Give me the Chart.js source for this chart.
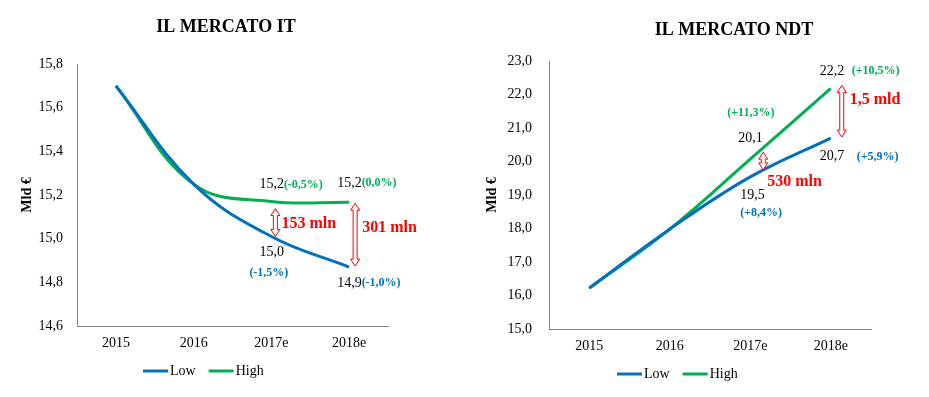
<!DOCTYPE html>
<html>
<head>
<meta charset="utf-8">
<script src="https://cdn.jsdelivr.net/npm/chart.js@4"></script>
<style>
  body { margin: 0; background: #fff; width: 929px; height: 397px; position: relative; overflow: hidden; }
  .box { position: absolute; top: 0; height: 397px; }
</style>
</head>
<body>
<div class="box" style="left:0;width:465px"><canvas id="it" width="465" height="397"></canvas></div>
<div class="box" style="left:470px;width:459px"><canvas id="ndt" width="459" height="397"></canvas></div>
<script>
// data
const years = ['2015', '2016', '2017e', '2018e'];
const seriesNames = ['Low', 'High'];

const itLow = [15.70, 15.25, 15.01, 14.87];
const itHigh = [15.70, 15.25, 15.17, 15.167];
const itLowPct = ['', '', '(-1,5%)', '(-1,0%)'];
const itHighPct = ['', '', '(-0,5%)', '(0,0%)'];
const itGaps = ['153 mln', '301 mln'];
const itTicks = { min: 14.6, max: 15.8, step: 0.2 };

const ndtLow = [16.22, 17.98, 19.54, 20.70];
const ndtHigh = [16.22, 17.98, 20.07, 22.18];
const ndtLowPct = ['', '', '(+8,4%)', '(+5,9%)'];
const ndtHighPct = ['', '', '(+11,3%)', '(+10,5%)'];
const ndtGaps = ['530 mln', '1,5 mld'];
const ndtTicks = { min: 15, max: 23, step: 1 };

const BLUE = '#0070C0';
const GREEN = '#00B050';
const RED = '#FF0000';
const SERIF = '"Liberation Serif", "Times New Roman", serif';

Chart.defaults.font.family = SERIF;
Chart.defaults.color = '#000';

const fmt = v => Number(v).toFixed(1).replace('.', ',');

function drawArrow(ctx, x, y1, y2) {
    const hw = 4.5, sw = 2, hl = 7;
    ctx.beginPath();
    ctx.moveTo(x, y1);
    ctx.lineTo(x + hw, y1 + hl);
    ctx.lineTo(x + sw, y1 + hl);
    ctx.lineTo(x + sw, y2 - hl);
    ctx.lineTo(x + hw, y2 - hl);
    ctx.lineTo(x, y2);
    ctx.lineTo(x - hw, y2 - hl);
    ctx.lineTo(x - sw, y2 - hl);
    ctx.lineTo(x - sw, y1 + hl);
    ctx.lineTo(x - hw, y1 + hl);
    ctx.closePath();
    ctx.fillStyle = '#fff';
    ctx.fill();
    ctx.strokeStyle = RED;
    ctx.lineWidth = 1;
    ctx.stroke();
}

// title, value labels, gap arrows and legend
const extras = {
    id: 'extras',
    afterDatasetsDraw(chart, args, opts) {
        const { ctx, chartArea, scales: { x, y } } = chart;
        const sets = chart.data.datasets;
        ctx.save();
        ctx.textBaseline = 'middle';

        ctx.font = `bold 18px ${SERIF}`;
        ctx.fillStyle = '#000';
        ctx.textAlign = 'center';
        ctx.fillText(opts.title, opts.titleX, opts.titleY);

        ctx.textAlign = 'left';
        opts.labels.forEach(l => {
            const ds = sets[l.ds];
            const px = x.getPixelForValue(l.at);
            const py = y.getPixelForValue(ds.data[l.at]);
            const txt = fmt(ds.data[l.at]);
            ctx.font = `14px ${SERIF}`;
            ctx.fillStyle = '#000';
            ctx.fillText(txt, px + l.value[0], py + l.value[1]);
            const pct = ds.pct[l.at];
            let qx, qy;
            if (l.pct === 'after') {
                qx = px + l.value[0] + ctx.measureText(txt).width;
                qy = py + l.value[1];
            } else {
                qx = px + l.pct[0];
                qy = py + l.pct[1];
            }
            ctx.font = `bold 12px ${SERIF}`;
            ctx.fillStyle = ds.borderColor;
            ctx.fillText(pct, qx, qy);
        });

        opts.arrows.forEach((a, i) => {
            const ax = x.getPixelForValue(a.at) + a.dx;
            const top = y.getPixelForValue(sets[1].data[a.at]) + a.inset[0];
            const bot = y.getPixelForValue(sets[0].data[a.at]) + a.inset[1];
            drawArrow(ctx, ax, top, bot);
            ctx.font = `bold 16px ${SERIF}`;
            ctx.fillStyle = RED;
            ctx.fillText(opts.gaps[i], ax + a.text[0], (top + bot) / 2 + a.text[1]);
        });

        let lx = chartArea.left + opts.legendDx;
        const ly = opts.legendY;
        ctx.font = `14px ${SERIF}`;
        sets.forEach(ds => {
            ctx.strokeStyle = ds.borderColor;
            ctx.lineWidth = 3;
            ctx.beginPath();
            ctx.moveTo(lx, ly);
            ctx.lineTo(lx + 25, ly);
            ctx.stroke();
            ctx.fillStyle = '#000';
            ctx.fillText(ds.label, lx + 27, ly);
            lx += 27 + ctx.measureText(ds.label).width + 13;
        });
        ctx.restore();
    }
};

const makeChart = (canvasId, low, high, lowPct, highPct, ticks, layout, extrasOpts) => {
    const ctx = document.getElementById(canvasId);
    return new Chart(ctx, {
        type: 'line',
        data: {
            labels: years,
            datasets: [
                { label: seriesNames[0], data: low, pct: lowPct, borderColor: BLUE, borderWidth: 3, pointRadius: 0, tension: 0.4, fill: false },
                { label: seriesNames[1], data: high, pct: highPct, borderColor: GREEN, borderWidth: 3, pointRadius: 0, tension: 0.4, fill: false }
            ]
        },
        options: {
            responsive: false,
            animation: false,
            layout: { padding: layout.padding },
            plugins: {
                legend: { display: false },
                tooltip: { enabled: false },
                extras: { ...extrasOpts }
            },
            scales: {
                x: {
                    offset: true,
                    grid: { display: false, drawTicks: false },
                    border: { display: true, color: '#868686' },
                    ticks: { font: { size: 14 }, color: '#000', padding: 9 },
                    afterFit: s => { s.height = layout.xHeight; }
                },
                y: {
                    min: ticks.min,
                    max: ticks.max,
                    grid: { display: false, drawTicks: false },
                    border: { display: true, color: '#868686' },
                    ticks: { stepSize: ticks.step, font: { size: 14 }, color: '#000', padding: layout.tickPad, callback: v => fmt(v) },
                    title: { display: true, text: 'Mld €', color: '#000', font: { size: 14, weight: 'bold' }, padding: { top: layout.titlePad, bottom: 0 } },
                    afterFit: s => { s.width = layout.yWidth; }
                }
            }
        },
        plugins: [extras]
    });
};

makeChart('it', itLow, itHigh, itLowPct, itHighPct, itTicks,
    { padding: { left: 0, right: 77, top: 64, bottom: 0 }, xHeight: 71, yWidth: 77, tickPad: 14, titlePad: 19 },
    {
        title: 'IL MERCATO IT', titleX: 226, titleY: 27,
        legendDx: 66, legendY: 371,
        gaps: itGaps,
        labels: [
            { ds: 1, at: 2, value: [-12, -17], pct: 'after' },
            { ds: 1, at: 3, value: [-12, -19], pct: 'after' },
            { ds: 0, at: 2, value: [-12, 16], pct: [-22, 36] },
            { ds: 0, at: 3, value: [-12, 16], pct: 'after' }
        ],
        arrows: [
            { at: 2, dx: 4, inset: [7, 0], text: [6, 1] },
            { at: 3, dx: 6, inset: [1, -1], text: [7, -7] }
        ]
    });

makeChart('ndt', ndtLow, ndtHigh, ndtLowPct, ndtHighPct, ndtTicks,
    { padding: { left: 0, right: 58, top: 61, bottom: 0 }, xHeight: 68, yWidth: 79, tickPad: 17, titlePad: 14 },
    {
        title: 'IL MERCATO NDT', titleX: 264, titleY: 30,
        legendDx: 68, legendY: 374,
        gaps: ndtGaps,
        labels: [
            { ds: 1, at: 2, value: [-12, -21], pct: [-23, -46] },
            { ds: 1, at: 3, value: [-11, -17], pct: [21, -18] },
            { ds: 0, at: 2, value: [-10, 18], pct: [-10, 36] },
            { ds: 0, at: 3, value: [-11, 18], pct: [26, 19] }
        ],
        arrows: [
            { at: 2, dx: 13, inset: [-7, -7], text: [4, 21] },
            { at: 3, dx: 11, inset: [-3, -1], text: [8, -11] }
        ]
    });
</script>
</body>
</html>
